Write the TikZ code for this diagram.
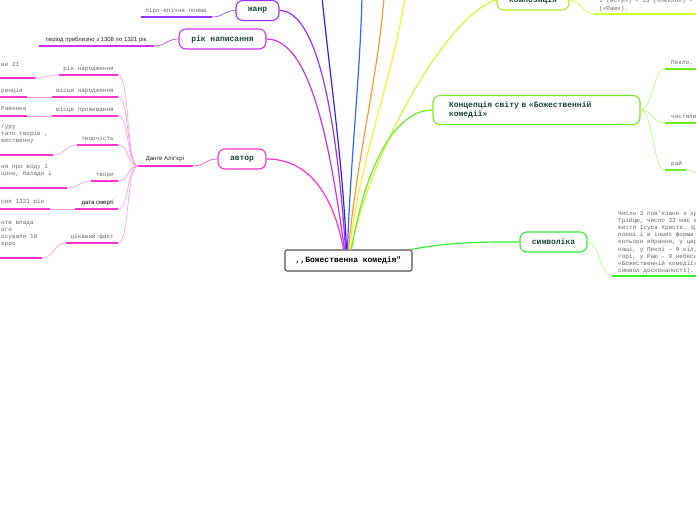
\documentclass[tikz,border=0pt]{standalone}
\usepackage{fontspec}
\newfontfamily\mindmono{Liberation Mono}
\newfontfamily\mindsans{Liberation Sans}
\usetikzlibrary{positioning}
\definecolor{pine}{RGB}{26,72,58}
\definecolor{slate}{RGB}{80,80,80}
\definecolor{rose}{RGB}{255,51,204}
\definecolor{rosepale}{RGB}{255,150,232}
\definecolor{orchid}{RGB}{204,51,238}
\definecolor{plum}{RGB}{153,51,255}
\definecolor{indigo}{RGB}{51,34,238}
\definecolor{azure}{RGB}{51,102,255}
\definecolor{tangerine}{RGB}{255,153,51}
\definecolor{lemon}{RGB}{255,238,51}
\definecolor{chartreuse}{RGB}{204,255,51}
\definecolor{chartdark}{RGB}{170,238,34}
\definecolor{spring}{RGB}{110,238,40}
\definecolor{springpale}{RGB}{170,255,120}
\definecolor{grass}{RGB}{51,238,51}
\definecolor{leafgray}{RGB}{105,105,105}
\tikzset{
  topic/.style={draw=#1,line width=1.1pt,fill=white,rounded corners=7pt,text=pine,
    font=\mindmono\bfseries\fontsize{8}{9.5}\selectfont,minimum height=20pt,inner sep=2pt},
  branch/.style={draw=#1,line width=1.2pt},
  twig/.style={draw=#1,line width=0.6pt},
  under/.style={draw=#1,line width=1.8pt},
  leaf/.style={font=\mindmono\fontsize{6}{7.1}\selectfont,text=leafgray,inner sep=0pt,align=left},
  sansleaf/.style={font=\mindsans\fontsize{6}{7}\selectfont,text=black!85,inner sep=0pt},
}

\begin{document}
\begin{tikzpicture}[x=1pt,y=-1pt]
  \useasboundingbox[fill=white] (0,0) rectangle (696,520);
  % centre and first level
  \node[draw=slate,line width=1.1pt,rounded corners=2pt,fill=white,minimum width=127pt,minimum height=21pt,
    inner sep=2pt,font=\mindmono\bfseries\fontsize{8}{9.5}\selectfont] (root) at (348.5,260.5) {{,}{,}Божественна комедія"};
  \node[topic=plum,minimum width=43pt] (genre) at (257.5,10.5) {жанр};
  \node[topic=orchid,minimum width=87pt] (written) at (222.5,39) {рік написання};
  \node[topic=rose,minimum width=48pt] (author) at (242,159) {автор};
  \node[topic=chartdark,minimum width=72pt] (compos) at (533,0) {композиція};
  \node[topic=spring,minimum height=29pt,text width=175pt,inner xsep=16pt,align=left] (concept) at (536.5,110)
    {Концепція світу в «Божественній\\комедії»};
  \node[topic=grass,minimum width=67pt] (symbol) at (553.5,242) {символіка};
  \coordinate (up1) at (322,-3);
  \coordinate (up2) at (362,-3);
  \coordinate (up3) at (384,-3);
  \coordinate (up4) at (405,-3);

  \draw[branch=rose] ([xshift=-5pt]root.north) .. controls +(-10,-55) and +(42,0) .. (author.east);
  \draw[branch=orchid] ([xshift=-4pt]root.north) .. controls +(-14,-100) and +(45,0) .. (written.east);
  \draw[branch=plum] ([xshift=-3pt]root.north) .. controls +(-8,-120) and +(40,0) .. (genre.east);
  \draw[branch=indigo] ([xshift=-2pt]root.north) .. controls +(-4,-90) and +(8,80) .. (up1);
  \draw[branch=azure] ([xshift=-1pt]root.north) .. controls +(3,-90) and +(-2,80) .. (up2);
  \draw[branch=tangerine] (root.north) .. controls +(8,-90) and +(-6,80) .. (up3);
  \draw[branch=lemon] ([xshift=1pt]root.north) .. controls +(10,-90) and +(-12,80) .. (up4);
  \draw[branch=chartreuse] ([xshift=2pt]root.north) .. controls +(24,-110) and +(-45,12) .. (compos.west);
  \draw[branch=spring] ([xshift=3pt]root.north) .. controls +(15,-90) and +(-35,0) .. (concept.west);
  \draw[branch=grass] ([xshift=-1pt]root.north east) .. controls +(40,-8) and +(-30,0) .. (symbol.west);

  % genre and date
  \coordinate (genreL) at (141,17);
  \coordinate (genreR) at (212,17);
  \draw[twig=plum] (genre.west) .. controls +(-12,0) and +(12,0) .. (genreR);
  \draw[under=plum] (genreL) -- (genreR);
  \node[leaf,anchor=base] (genretext) at (176,12) {ліро-епічна поема};
  \coordinate (writtenL) at (39,46);
  \coordinate (writtenR) at (154,46);
  \draw[twig=orchid] (written.west) .. controls +(-12,0) and +(12,0) .. (writtenR);
  \draw[under=orchid] (writtenL) -- (writtenR);
  \node[sansleaf,anchor=base] (writtentext) at (96,41) {період приблизно з 1308 по 1321 рік};

  % author
  \coordinate (danteL) at (138,166);
  \coordinate (danteR) at (193,166);
  \draw[twig=rose] (author.west) .. controls +(-12,0) and +(12,0) .. (danteR);
  \draw[under=rose] (danteL) -- (danteR);
  \node[sansleaf,anchor=base] (dante) at (165,160) {Данте Аліг'єрі};
  \foreach \yy/\xx/\what [count=\i] in {75/59/рік народження,97/52/місце народження,116/52/місце проживання,
      145/77/творчість,181/91/твори,209/75/{\mindsans\color{black}дата смерті},243/66/цікавий факт}
  {
    \coordinate (fact\i) at (118,\yy);
    \coordinate (facts\i) at (\xx,\yy);
    \draw[twig=rosepale] (danteL) .. controls +(-12,0) and +(12,0) .. (fact\i);
    \draw[under=rose] (facts\i) -- (fact\i);
    \node[leaf,anchor=base east] (factlabel\i) at (114,\yy-4.5) {\what};
  }
  % last baseline of each fragment
  \foreach \yy/\xx/\yb/\what [count=\i] in {78/35/66/ве 21,97/27/92/ренція,116/27/110/Равенна,
      155/53/142.2/{туру\\тато творів ,\\жественну},188/67/175.1/{ня про воду і\\цони, балади і},
      209/50/203/сня 1321 рік,258/42/245.3/{нте влада\\ого\\осували 19\\ерро}}
  {
    \coordinate (rest\i) at (\xx,\yy);
    \draw[twig=rosepale] (facts\i) .. controls +(-12,0) and +(12,0) .. (rest\i);
    \draw[under=rose] (0,\yy) -- (rest\i);
    \node[leaf,anchor=base west] (restlabel\i) at (1,\yb) {\what};
  }

  % composition
  \coordinate (composL) at (594,14);
  \draw[twig=chartreuse] (compos.east) .. controls +(12,0) and +(-12,0) .. (composL);
  \draw[under=chartreuse] (composL) -- (696,14);
  \node[leaf,anchor=base west] (compostext) at (599,10) {1 (вступ) + 33 («Пекло») +\\(«Раю»).};

  % world concept
  \foreach \yy/\xx/\what [count=\i] in {69/696/Пекло.,123/696/чистили,170/686/рай}
  {
    \coordinate (part\i) at (665,\yy);
    \draw[twig=springpale] (concept.east) .. controls +(12,0) and +(-12,0) .. (part\i);
    \draw[under=spring] (part\i) -- (\xx,\yy);
    \node[leaf,anchor=base west] (partlabel\i) at (671,\yy-4.5) {\what};
  }
  \draw[twig=springpale] (686,170) .. controls +(5,0) and +(-4,-2) .. (696,173);

  % symbolism
  \coordinate (symbolL) at (612,276);
  \draw[twig=springpale] (symbol.east) .. controls +(12,0) and +(-12,0) .. (symbolL);
  \draw[under=grass] (symbolL) -- (696,276);
  \node[leaf,anchor=base west] (symboltext) at (618,272.3) {Число 3 пов'язане з хр\\Трійцю, число 33 має в\\життя Ісуса Христа. Ці\\поемі і в інших форма\\кольори вбрання, у цар\\паші, у Пеклі – 9 кіл,\\горі, у Раю – 9 небесн\\«Божественній комедії»\\символ досконалості).};
\end{tikzpicture}
\end{document}
